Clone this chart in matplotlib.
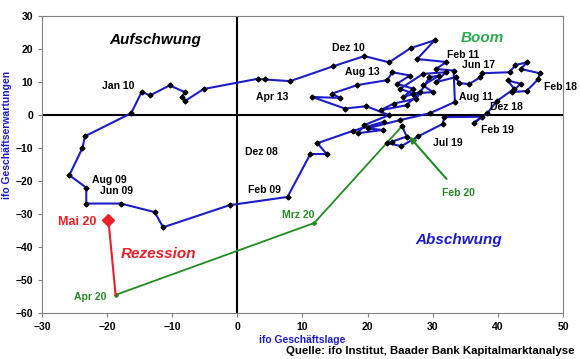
import matplotlib
matplotlib.use("Agg")
import matplotlib.pyplot as plt

plt.rcParams['font.family'] = ['Liberation Sans', 'DejaVu Sans']

# ifo Konjunkturuhr: Lage (x) / Erwartungen (y), monthly path up to Feb 20
lage = [22.5, 17.7, 12.3, 13.7, 11.2, 7.7, -1.2, -11.4, -12.7, -17.9,
        -23.2, -23.2, -25.8, -23.8, -23.4, -16.3, -14.7, -13.4, -10.4, -8.1,
        -8.5, -8.1, -5.2, 3.1, 4.2, 8.1, 14.7, 19.5, 23.3, 26.6,
        30.3, 27.6, 32.1, 30.5, 33.2, 33.4, 29.6, 25.0, 20.0, 22.3,
        18.5, 19.5, 23.3, 19.8, 16.5, 11.5, 15.8, 14.5, 18.4, 23.0,
        23.8, 26.5, 24.5, 27.0, 25.5, 28.0, 26.0, 22.0, 24.0, 27.5,
        29.5, 31.0, 28.5, 30.0, 27.0, 25.0, 28.5, 32.0, 30.5, 33.5,
        34.1, 35.6, 37.3, 37.6, 41.8, 42.7, 44.5, 43.5, 46.4, 46.2,
        44.4, 42.2, 43.5, 41.5, 42.5, 39.8, 38.4, 36.3, 37.5, 31.8,
        31.5, 27.8, 25.2, 23.0, 23.8, 26.0, 25.3]
erwartungen = [-2.0, -4.8, -8.5, -11.8, -11.8, -24.8, -27.3, -34.0, -29.4, -26.8,
               -26.8, -22.0, -18.2, -10.0, -6.4, 0.6, 7.0, 6.0, 9.0, 7.0,
               5.5, 4.2, 7.9, 11.0, 10.8, 10.3, 14.8, 17.9, 16.0, 20.3,
               22.7, 17.0, 16.1, 14.0, 13.5, 4.0, 0.6, -1.5, -4.0, -4.5,
               -5.5, -3.0, 0.0, 2.7, 2.0, 5.5, 5.2, 6.5, 9.1, 10.6,
               13.0, 12.0, 9.5, 8.0, 5.5, 7.0, 3.0, 1.5, 3.5, 5.0,
               11.5, 12.0, 9.0, 7.0, 6.5, 8.0, 12.5, 13.0, 10.0, 11.5,
               9.7, 9.4, 11.5, 12.7, 13.0, 15.2, 16.0, 14.0, 12.7, 10.9,
               7.3, 7.0, 9.5, 10.5, 8.0, 4.2, 0.6, -2.4, -0.5, -0.6,
               -2.7, -6.4, -9.4, -8.5, -8.0, -6.5, -3.3]

# corona months
krise_lage = [25.3, 11.8, -18.7]
krise_erw = [-3.3, -32.7, -54.5]
mai_lage = [-18.7, -19.8]
mai_erw = [-54.5, -31.8]

# month labels (text, x, y)
monate = [("Dez 08", 3.7, -11.2), ("Feb 09", 4.1, -22.7), ("Jun 09", -18.6, -23.0),
          ("Aug 09", -19.7, -19.7), ("Jan 10", -18.3, 8.8), ("Dez 10", 17.0, 20.3),
          ("Feb 11", 34.6, 18.2), ("Aug 11", 36.7, 5.5), ("Apr 13", 5.4, 5.5),
          ("Aug 13", 19.2, 13.0), ("Jun 17", 37.0, 15.2), ("Feb 18", 49.6, 8.5),
          ("Dez 18", 41.3, 2.4), ("Feb 19", 40.0, -4.5), ("Jul 19", 32.3, -8.5)]

blau = '#1c1cc8'
gruen = '#238b23'
rot = '#e8202a'

fig = plt.figure(figsize=(5.8, 3.59), dpi=100)
ax = fig.add_axes([0.0724, 0.128, 0.8983, 0.827])

ax.axhline(0, color='black', lw=1.5, zorder=1)
ax.axvline(0, color='black', lw=1.5, zorder=1)

ax.plot(lage, erwartungen, color=blau, lw=1.5, marker='D', ms=2.5,
        mfc='black', mec='black', zorder=3)
ax.plot(krise_lage, krise_erw, color=gruen, lw=1.3, marker='D', ms=2,
        mfc=gruen, mec=gruen, zorder=2)
ax.plot(mai_lage, mai_erw, color=rot, lw=1.5, zorder=2)
ax.plot(mai_lage[-1], mai_erw[-1], 'D', color=rot, ms=6, zorder=4)

for txt, x, y in monate:
    ax.text(x, y, txt, fontsize=7.5, fontweight='bold', ha='center', va='center',
            clip_on=False, zorder=5)

ax.text(-22.6, -55.0, "Apr 20", color=gruen, fontsize=7.5, fontweight='bold',
        ha='center', va='center')
ax.text(9.4, -30.3, "Mrz 20", color=gruen, fontsize=7.5, fontweight='bold',
        ha='center', va='center')
ax.annotate("Feb 20", xy=(26.4, -6.5), xytext=(34.0, -23.6), color=gruen,
            fontsize=7.5, fontweight='bold', ha='center', va='center',
            arrowprops=dict(arrowstyle='-|>', color=gruen, lw=1.5,
                            shrinkA=6, shrinkB=0, mutation_scale=9))
ax.text(-24.6, -32.4, "Mai 20", color=rot, fontsize=9, fontweight='bold',
        ha='center', va='center')

ax.text(-12.6, 22.7, "Aufschwung", fontsize=11, fontweight='bold', style='italic',
        ha='center', va='center')
ax.text(37.6, 23.3, "Boom", color='#2eaa50', fontsize=11, fontweight='bold',
        style='italic', ha='center', va='center')
ax.text(34.0, -37.9, "Abschwung", color=blau, fontsize=11, fontweight='bold',
        style='italic', ha='center', va='center')
ax.text(-12.1, -42.1, "Rezession", color=rot, fontsize=11, fontweight='bold',
        style='italic', ha='center', va='center')

ax.set_xlim(-30, 50)
ax.set_ylim(-60, 30)
ax.set_xticks(range(-30, 51, 10))
ax.set_yticks(range(-60, 31, 10))
for s in ax.spines.values():
    s.set_color('#808080')
ax.tick_params(colors='#808080', labelcolor='black', labelsize=7.5, length=3)
for lab in ax.get_xticklabels() + ax.get_yticklabels():
    lab.set_fontweight('bold')

ax.set_xlabel("ifo Geschäftslage", color=blau, fontsize=7.5, fontweight='bold', labelpad=2)
ax.set_ylabel("ifo Geschäftserwartungen", color=blau, fontsize=7.5, fontweight='bold',
              labelpad=2)
ax.yaxis.set_label_coords(-0.058, 0.6)
fig.text(0.99, 0.022, "Quelle: ifo Institut, Baader Bank Kapitalmarktanalyse",
         fontsize=8.2, fontweight='bold', ha='right', va='center')

fig.savefig("out.png", dpi=100)
